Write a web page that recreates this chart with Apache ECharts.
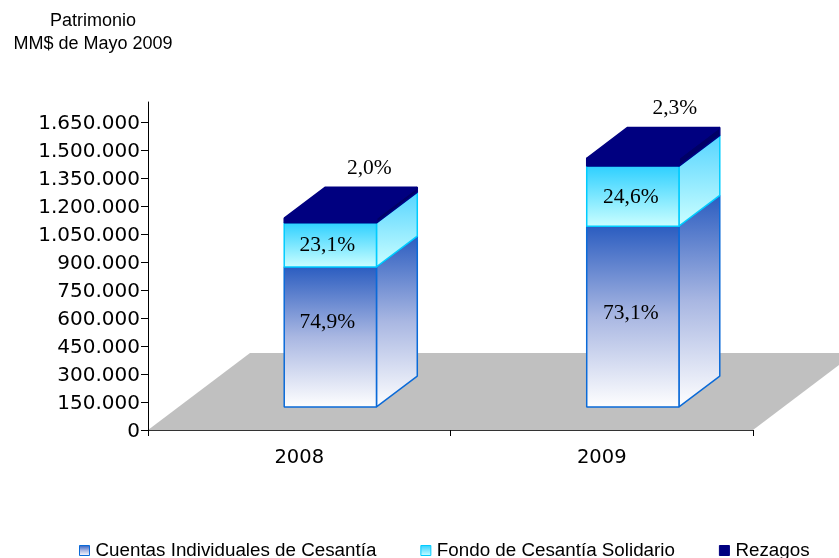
<!DOCTYPE html>
<html>
<head>
<meta charset="utf-8">
<script src="https://cdn.jsdelivr.net/npm/echarts@6/dist/echarts.min.js"></script>
<style>
html, body { margin: 0; padding: 0; background: #fff; }
#chart { width: 839px; height: 558px; }
</style>
</head>
<body>
<div id="chart"></div>
<script>
var years = ['2008', '2009'];
var cuentas = [750000, 968000];
var fondo = [236000, 322000];
var rezagos = [25000, 42000];
var pctCuentas = ['74,9%', '73,1%'];
var pctFondo = ['23,1%', '24,6%'];
var pctRezagos = ['2,0%', '2,3%'];
var yTicks = [0, 150000, 300000, 450000, 600000, 750000, 900000, 1050000, 1200000, 1350000, 1500000, 1650000];
var yMax = 1757000;

// fake 3d: how far the floor goes back, and where the bars sit in it
var floorDx = 102, floorDy = 77;
var barFront = 0.3, barDepth = 0.4, barWidth = 0.305;

function vgrad(top, bottom) {
    return new echarts.graphic.LinearGradient(0, 0, 0, 1, [
        { offset: 0, color: top },
        { offset: 1, color: bottom }
    ]);
}

var fillCuentas = function () {
    return new echarts.graphic.LinearGradient(0, 0, 0, 1, [
        { offset: 0, color: '#2a5cc0' },
        { offset: 0.5, color: '#a9b7e2' },
        { offset: 1, color: '#ffffff' }
    ]);
};

function floorItem(params, api) {
    var band = api.size([1, 0])[0];
    var p = api.coord([0, 0]);
    var left = p[0] - band / 2, right = left + band * years.length, y = p[1];
    return {
        type: 'polygon',
        shape: { points: [[left, y], [right, y], [right + floorDx, y - floorDy], [left + floorDx, y - floorDy]] },
        style: { fill: '#c0c0c0' }
    };
}

function quad(a, b, c, d, fill, stroke) {
    return {
        type: 'polygon',
        shape: { points: [a, b, c, d] },
        style: { fill: fill, stroke: stroke, lineWidth: 1.5, lineJoin: 'bevel' }
    };
}

function makeSeries(name, values, bases, pcts, look) {
    return {
        name: name,
        type: 'custom',
        z: 5,
        data: values.map(function (v, i) { return [i, bases[i], bases[i] + v]; }),
        renderItem: function (params, api) {
            var i = params.dataIndex;
            var band = api.size([1, 0])[0];
            var w = band * barWidth;
            var a = api.coord([i, api.value(1)]);
            var b = api.coord([i, api.value(2)]);
            var x0 = a[0] + floorDx * barFront - w / 2 + 0.5;
            var x1 = x0 + w;
            var shift = floorDy * barFront;
            var yLow = a[1] - shift, yHigh = b[1] - shift;
            var dx = floorDx * barDepth, dy = floorDy * barDepth;
            var kids = [
                quad([x1, yLow], [x1 + dx, yLow - dy], [x1 + dx, yHigh - dy], [x1, yHigh], look.side(), look.stroke),
                quad([x0, yLow], [x1, yLow], [x1, yHigh], [x0, yHigh], look.front(), look.stroke)
            ];
            var tx, ty;
            if (look.top) {
                kids.push(quad([x0, yHigh], [x1, yHigh], [x1 + dx, yHigh - dy], [x0 + dx, yHigh - dy], look.top, look.top));
                tx = x0 + w / 2 + 39 + look.nudgeX[i];
                ty = yHigh - dy - 19;
            } else {
                tx = x0 + w / 2 + look.nudgeX[i];
                ty = (yLow + yHigh) / 2 + look.nudgeY[i];
            }
            kids.push({
                type: 'text',
                style: {
                    text: pcts[i], x: tx, y: ty, fill: '#000',
                    font: '21.5px "Liberation Serif"',
                    textAlign: 'center', textVerticalAlign: 'middle'
                }
            });
            return { type: 'group', children: kids };
        }
    };
}

var fondoBases = cuentas.slice();
var rezagoBases = cuentas.map(function (v, i) { return v + fondo[i]; });
var zeros = cuentas.map(function () { return 0; });

var cyanFill = function () { return vgrad('#2ccfff', '#ccffff'); };
var cyanSide = function () { return vgrad('#55d4ff', '#ccffff'); };

var option = {
    animation: false,
    backgroundColor: '#fff',
    title: {
        text: 'Patrimonio\nMM$ de Mayo 2009',
        left: 88,
        top: 5,
        textAlign: 'center',
        textStyle: {
            fontFamily: 'Liberation Sans', fontSize: 18, fontWeight: 'normal',
            color: '#000', lineHeight: 23, align: 'center'
        }
    },
    grid: { left: 148, right: 86, top: 102, bottom: 128 },
    xAxis: {
        type: 'category',
        data: years,
        z: 3,
        axisLine: { lineStyle: { color: '#333', width: 1 } },
        axisTick: { show: true, alignWithLabel: false, length: 6, lineStyle: { color: '#000' } },
        axisLabel: { fontFamily: 'DejaVu Sans', fontSize: 19.5, color: '#000', margin: 18 }
    },
    yAxis: {
        type: 'value',
        min: 0,
        max: yMax,
        z: 3,
        splitLine: { show: false },
        axisLine: { show: true, lineStyle: { color: '#000', width: 1 } },
        axisTick: { show: true, length: 7, customValues: yTicks, lineStyle: { color: '#000' } },
        axisLabel: {
            fontFamily: 'DejaVu Sans', fontSize: 20, color: '#000', margin: 8,
            verticalAlign: 'top', lineHeight: 4,
            customValues: yTicks,
            formatter: function (v) { return String(v).replace(/\B(?=(\d{3})+$)/g, '.'); }
        }
    },
    legend: {
        left: 74,
        top: 536,
        itemWidth: 10,
        itemHeight: 10,
        itemGap: 44,
        textStyle: { fontFamily: 'Liberation Sans', fontSize: 18.8, color: '#000', padding: [0, 0, 0, 1] },
        data: [
            { name: 'Cuentas Individuales de Cesantía', icon: 'rect', itemStyle: { color: fillCuentas(), borderColor: '#0a6ad8', borderWidth: 1 } },
            { name: 'Fondo de Cesantía Solidario', icon: 'rect', itemStyle: { color: cyanFill(), borderColor: '#00ccff', borderWidth: 1 } },
            { name: 'Rezagos', icon: 'rect', itemStyle: { color: '#000080', borderColor: '#000080', borderWidth: 1 } }
        ]
    },
    series: [
        { name: 'piso', type: 'custom', z: 1, data: [[0, 0]], renderItem: floorItem },
        makeSeries('Cuentas Individuales de Cesantía', cuentas, zeros, pctCuentas, {
            front: fillCuentas, side: fillCuentas, stroke: '#0a6ad8',
            nudgeX: [-3, -2], nudgeY: [-15, -3]
        }),
        makeSeries('Fondo de Cesantía Solidario', fondo, fondoBases, pctFondo, {
            front: cyanFill, side: cyanSide, stroke: '#00ccff',
            nudgeX: [-3, -2], nudgeY: [0, 1]
        }),
        makeSeries('Rezagos', rezagos, rezagoBases, pctRezagos, {
            front: function () { return '#000080'; },
            side: function () { return '#000066'; },
            stroke: '#000080',
            top: '#000080',
            nudgeX: [0, 3]
        })
    ]
};

var chart = echarts.init(document.getElementById('chart'));
chart.setOption(option);
</script>
</body>
</html>
